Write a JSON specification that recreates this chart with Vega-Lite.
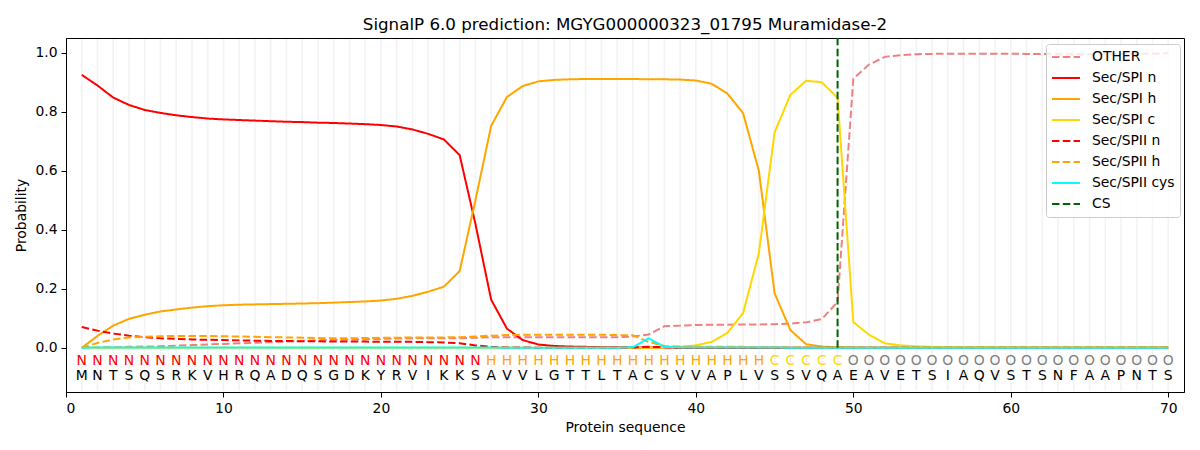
{
  "$schema": "https://vega.github.io/schema/vega-lite/v6.json",
  "width": 1118,
  "height": 354,
  "autosize": {"type": "none"},
  "padding": {"left": 66, "top": 38, "right": 16, "bottom": 58},
  "title": {
    "text": "SignalP 6.0 prediction: MGYG000000323_01795 Muramidase-2",
    "fontSize": 16.7,
    "fontWeight": "normal",
    "offset": 3
  },
  "datasets": {
    "residues": [
      {"pos": 1, "aa": "M", "lab": "N", "OTHER": 0.000, "Sec/SPI n": 0.925, "Sec/SPI h": 0.000, "Sec/SPI c": 0.000, "Sec/SPII n": 0.070, "Sec/SPII h": 0.000, "Sec/SPII cys": 0.000},
      {"pos": 2, "aa": "N", "lab": "N", "OTHER": 0.001, "Sec/SPI n": 0.889, "Sec/SPI h": 0.040, "Sec/SPI c": 0.000, "Sec/SPII n": 0.058, "Sec/SPII h": 0.016, "Sec/SPII cys": 0.001},
      {"pos": 3, "aa": "T", "lab": "N", "OTHER": 0.002, "Sec/SPI n": 0.848, "Sec/SPI h": 0.075, "Sec/SPI c": 0.000, "Sec/SPII n": 0.048, "Sec/SPII h": 0.028, "Sec/SPII cys": 0.001},
      {"pos": 4, "aa": "S", "lab": "N", "OTHER": 0.003, "Sec/SPI n": 0.823, "Sec/SPI h": 0.098, "Sec/SPI c": 0.000, "Sec/SPII n": 0.041, "Sec/SPII h": 0.035, "Sec/SPII cys": 0.001},
      {"pos": 5, "aa": "Q", "lab": "N", "OTHER": 0.004, "Sec/SPI n": 0.806, "Sec/SPI h": 0.112, "Sec/SPI c": 0.000, "Sec/SPII n": 0.036, "Sec/SPII h": 0.037, "Sec/SPII cys": 0.001},
      {"pos": 6, "aa": "S", "lab": "N", "OTHER": 0.005, "Sec/SPI n": 0.796, "Sec/SPI h": 0.123, "Sec/SPI c": 0.000, "Sec/SPII n": 0.032, "Sec/SPII h": 0.039, "Sec/SPII cys": 0.001},
      {"pos": 7, "aa": "R", "lab": "N", "OTHER": 0.007, "Sec/SPI n": 0.788, "Sec/SPI h": 0.130, "Sec/SPI c": 0.000, "Sec/SPII n": 0.030, "Sec/SPII h": 0.040, "Sec/SPII cys": 0.001},
      {"pos": 8, "aa": "K", "lab": "N", "OTHER": 0.009, "Sec/SPI n": 0.782, "Sec/SPI h": 0.136, "Sec/SPI c": 0.000, "Sec/SPII n": 0.028, "Sec/SPII h": 0.040, "Sec/SPII cys": 0.001},
      {"pos": 9, "aa": "V", "lab": "N", "OTHER": 0.011, "Sec/SPI n": 0.777, "Sec/SPI h": 0.141, "Sec/SPI c": 0.000, "Sec/SPII n": 0.027, "Sec/SPII h": 0.040, "Sec/SPII cys": 0.001},
      {"pos": 10, "aa": "H", "lab": "N", "OTHER": 0.013, "Sec/SPI n": 0.774, "Sec/SPI h": 0.144, "Sec/SPI c": 0.000, "Sec/SPII n": 0.026, "Sec/SPII h": 0.039, "Sec/SPII cys": 0.001},
      {"pos": 11, "aa": "R", "lab": "N", "OTHER": 0.015, "Sec/SPI n": 0.772, "Sec/SPI h": 0.146, "Sec/SPI c": 0.000, "Sec/SPII n": 0.025, "Sec/SPII h": 0.038, "Sec/SPII cys": 0.001},
      {"pos": 12, "aa": "Q", "lab": "N", "OTHER": 0.017, "Sec/SPI n": 0.770, "Sec/SPI h": 0.147, "Sec/SPI c": 0.000, "Sec/SPII n": 0.024, "Sec/SPII h": 0.037, "Sec/SPII cys": 0.001},
      {"pos": 13, "aa": "A", "lab": "N", "OTHER": 0.019, "Sec/SPI n": 0.768, "Sec/SPI h": 0.148, "Sec/SPI c": 0.000, "Sec/SPII n": 0.023, "Sec/SPII h": 0.036, "Sec/SPII cys": 0.001},
      {"pos": 14, "aa": "D", "lab": "N", "OTHER": 0.021, "Sec/SPI n": 0.766, "Sec/SPI h": 0.149, "Sec/SPI c": 0.000, "Sec/SPII n": 0.023, "Sec/SPII h": 0.035, "Sec/SPII cys": 0.001},
      {"pos": 15, "aa": "Q", "lab": "N", "OTHER": 0.023, "Sec/SPI n": 0.765, "Sec/SPI h": 0.150, "Sec/SPI c": 0.000, "Sec/SPII n": 0.022, "Sec/SPII h": 0.034, "Sec/SPII cys": 0.001},
      {"pos": 16, "aa": "S", "lab": "N", "OTHER": 0.025, "Sec/SPI n": 0.763, "Sec/SPI h": 0.151, "Sec/SPI c": 0.000, "Sec/SPII n": 0.022, "Sec/SPII h": 0.033, "Sec/SPII cys": 0.001},
      {"pos": 17, "aa": "G", "lab": "N", "OTHER": 0.027, "Sec/SPI n": 0.762, "Sec/SPI h": 0.153, "Sec/SPI c": 0.000, "Sec/SPII n": 0.021, "Sec/SPII h": 0.032, "Sec/SPII cys": 0.001},
      {"pos": 18, "aa": "D", "lab": "N", "OTHER": 0.028, "Sec/SPI n": 0.760, "Sec/SPI h": 0.155, "Sec/SPI c": 0.000, "Sec/SPII n": 0.021, "Sec/SPII h": 0.032, "Sec/SPII cys": 0.001},
      {"pos": 19, "aa": "K", "lab": "N", "OTHER": 0.029, "Sec/SPI n": 0.758, "Sec/SPI h": 0.157, "Sec/SPI c": 0.000, "Sec/SPII n": 0.021, "Sec/SPII h": 0.033, "Sec/SPII cys": 0.001},
      {"pos": 20, "aa": "Y", "lab": "N", "OTHER": 0.030, "Sec/SPI n": 0.755, "Sec/SPI h": 0.160, "Sec/SPI c": 0.000, "Sec/SPII n": 0.020, "Sec/SPII h": 0.034, "Sec/SPII cys": 0.001},
      {"pos": 21, "aa": "R", "lab": "N", "OTHER": 0.031, "Sec/SPI n": 0.750, "Sec/SPI h": 0.166, "Sec/SPI c": 0.000, "Sec/SPII n": 0.020, "Sec/SPII h": 0.034, "Sec/SPII cys": 0.001},
      {"pos": 22, "aa": "V", "lab": "N", "OTHER": 0.032, "Sec/SPI n": 0.740, "Sec/SPI h": 0.176, "Sec/SPI c": 0.000, "Sec/SPII n": 0.020, "Sec/SPII h": 0.035, "Sec/SPII cys": 0.001},
      {"pos": 23, "aa": "I", "lab": "N", "OTHER": 0.032, "Sec/SPI n": 0.725, "Sec/SPI h": 0.190, "Sec/SPI c": 0.000, "Sec/SPII n": 0.019, "Sec/SPII h": 0.035, "Sec/SPII cys": 0.001},
      {"pos": 24, "aa": "K", "lab": "N", "OTHER": 0.032, "Sec/SPI n": 0.706, "Sec/SPI h": 0.207, "Sec/SPI c": 0.000, "Sec/SPII n": 0.018, "Sec/SPII h": 0.035, "Sec/SPII cys": 0.001},
      {"pos": 25, "aa": "K", "lab": "N", "OTHER": 0.032, "Sec/SPI n": 0.653, "Sec/SPI h": 0.260, "Sec/SPI c": 0.000, "Sec/SPII n": 0.015, "Sec/SPII h": 0.036, "Sec/SPII cys": 0.001},
      {"pos": 26, "aa": "S", "lab": "N", "OTHER": 0.034, "Sec/SPI n": 0.420, "Sec/SPI h": 0.500, "Sec/SPI c": 0.000, "Sec/SPII n": 0.008, "Sec/SPII h": 0.038, "Sec/SPII cys": 0.001},
      {"pos": 27, "aa": "A", "lab": "H", "OTHER": 0.036, "Sec/SPI n": 0.163, "Sec/SPI h": 0.752, "Sec/SPI c": 0.000, "Sec/SPII n": 0.003, "Sec/SPII h": 0.041, "Sec/SPII cys": 0.001},
      {"pos": 28, "aa": "V", "lab": "H", "OTHER": 0.036, "Sec/SPI n": 0.065, "Sec/SPI h": 0.850, "Sec/SPI c": 0.000, "Sec/SPII n": 0.001, "Sec/SPII h": 0.043, "Sec/SPII cys": 0.000},
      {"pos": 29, "aa": "V", "lab": "H", "OTHER": 0.036, "Sec/SPI n": 0.026, "Sec/SPI h": 0.887, "Sec/SPI c": 0.000, "Sec/SPII n": 0.001, "Sec/SPII h": 0.044, "Sec/SPII cys": 0.000},
      {"pos": 30, "aa": "L", "lab": "H", "OTHER": 0.036, "Sec/SPI n": 0.011, "Sec/SPI h": 0.903, "Sec/SPI c": 0.000, "Sec/SPII n": 0.000, "Sec/SPII h": 0.044, "Sec/SPII cys": 0.000},
      {"pos": 31, "aa": "G", "lab": "H", "OTHER": 0.036, "Sec/SPI n": 0.006, "Sec/SPI h": 0.908, "Sec/SPI c": 0.000, "Sec/SPII n": 0.000, "Sec/SPII h": 0.044, "Sec/SPII cys": 0.000},
      {"pos": 32, "aa": "T", "lab": "H", "OTHER": 0.036, "Sec/SPI n": 0.004, "Sec/SPI h": 0.910, "Sec/SPI c": 0.000, "Sec/SPII n": 0.000, "Sec/SPII h": 0.044, "Sec/SPII cys": 0.000},
      {"pos": 33, "aa": "T", "lab": "H", "OTHER": 0.036, "Sec/SPI n": 0.003, "Sec/SPI h": 0.911, "Sec/SPI c": 0.000, "Sec/SPII n": 0.000, "Sec/SPII h": 0.044, "Sec/SPII cys": 0.000},
      {"pos": 34, "aa": "L", "lab": "H", "OTHER": 0.036, "Sec/SPI n": 0.002, "Sec/SPI h": 0.911, "Sec/SPI c": 0.000, "Sec/SPII n": 0.000, "Sec/SPII h": 0.044, "Sec/SPII cys": 0.000},
      {"pos": 35, "aa": "T", "lab": "H", "OTHER": 0.036, "Sec/SPI n": 0.002, "Sec/SPI h": 0.911, "Sec/SPI c": 0.000, "Sec/SPII n": 0.000, "Sec/SPII h": 0.043, "Sec/SPII cys": 0.000},
      {"pos": 36, "aa": "A", "lab": "H", "OTHER": 0.038, "Sec/SPI n": 0.001, "Sec/SPI h": 0.911, "Sec/SPI c": 0.000, "Sec/SPII n": 0.001, "Sec/SPII h": 0.042, "Sec/SPII cys": 0.002},
      {"pos": 37, "aa": "C", "lab": "H", "OTHER": 0.045, "Sec/SPI n": 0.001, "Sec/SPI h": 0.910, "Sec/SPI c": 0.000, "Sec/SPII n": 0.003, "Sec/SPII h": 0.020, "Sec/SPII cys": 0.032},
      {"pos": 38, "aa": "S", "lab": "H", "OTHER": 0.073, "Sec/SPI n": 0.001, "Sec/SPI h": 0.910, "Sec/SPI c": 0.001, "Sec/SPII n": 0.002, "Sec/SPII h": 0.006, "Sec/SPII cys": 0.003},
      {"pos": 39, "aa": "V", "lab": "H", "OTHER": 0.075, "Sec/SPI n": 0.000, "Sec/SPI h": 0.909, "Sec/SPI c": 0.003, "Sec/SPII n": 0.000, "Sec/SPII h": 0.004, "Sec/SPII cys": 0.001},
      {"pos": 40, "aa": "V", "lab": "H", "OTHER": 0.077, "Sec/SPI n": 0.000, "Sec/SPI h": 0.906, "Sec/SPI c": 0.008, "Sec/SPII n": 0.000, "Sec/SPII h": 0.003, "Sec/SPII cys": 0.001},
      {"pos": 41, "aa": "A", "lab": "H", "OTHER": 0.078, "Sec/SPI n": 0.000, "Sec/SPI h": 0.895, "Sec/SPI c": 0.020, "Sec/SPII n": 0.000, "Sec/SPII h": 0.003, "Sec/SPII cys": 0.001},
      {"pos": 42, "aa": "P", "lab": "H", "OTHER": 0.078, "Sec/SPI n": 0.000, "Sec/SPI h": 0.862, "Sec/SPI c": 0.050, "Sec/SPII n": 0.000, "Sec/SPII h": 0.003, "Sec/SPII cys": 0.001},
      {"pos": 43, "aa": "L", "lab": "H", "OTHER": 0.079, "Sec/SPI n": 0.000, "Sec/SPI h": 0.795, "Sec/SPI c": 0.118, "Sec/SPII n": 0.000, "Sec/SPII h": 0.003, "Sec/SPII cys": 0.001},
      {"pos": 44, "aa": "V", "lab": "H", "OTHER": 0.079, "Sec/SPI n": 0.000, "Sec/SPI h": 0.600, "Sec/SPI c": 0.320, "Sec/SPII n": 0.000, "Sec/SPII h": 0.002, "Sec/SPII cys": 0.001},
      {"pos": 45, "aa": "S", "lab": "C", "OTHER": 0.080, "Sec/SPI n": 0.000, "Sec/SPI h": 0.185, "Sec/SPI c": 0.730, "Sec/SPII n": 0.000, "Sec/SPII h": 0.002, "Sec/SPII cys": 0.001},
      {"pos": 46, "aa": "S", "lab": "C", "OTHER": 0.082, "Sec/SPI n": 0.000, "Sec/SPI h": 0.060, "Sec/SPI c": 0.857, "Sec/SPII n": 0.000, "Sec/SPII h": 0.001, "Sec/SPII cys": 0.000},
      {"pos": 47, "aa": "V", "lab": "C", "OTHER": 0.086, "Sec/SPI n": 0.000, "Sec/SPI h": 0.012, "Sec/SPI c": 0.905, "Sec/SPII n": 0.000, "Sec/SPII h": 0.001, "Sec/SPII cys": 0.000},
      {"pos": 48, "aa": "Q", "lab": "C", "OTHER": 0.097, "Sec/SPI n": 0.000, "Sec/SPI h": 0.004, "Sec/SPI c": 0.900, "Sec/SPII n": 0.000, "Sec/SPII h": 0.000, "Sec/SPII cys": 0.000},
      {"pos": 49, "aa": "A", "lab": "C", "OTHER": 0.155, "Sec/SPI n": 0.000, "Sec/SPI h": 0.002, "Sec/SPI c": 0.847, "Sec/SPII n": 0.000, "Sec/SPII h": 0.000, "Sec/SPII cys": 0.000},
      {"pos": 50, "aa": "E", "lab": "O", "OTHER": 0.912, "Sec/SPI n": 0.000, "Sec/SPI h": 0.001, "Sec/SPI c": 0.087, "Sec/SPII n": 0.000, "Sec/SPII h": 0.000, "Sec/SPII cys": 0.000},
      {"pos": 51, "aa": "A", "lab": "O", "OTHER": 0.960, "Sec/SPI n": 0.000, "Sec/SPI h": 0.000, "Sec/SPI c": 0.044, "Sec/SPII n": 0.000, "Sec/SPII h": 0.000, "Sec/SPII cys": 0.000},
      {"pos": 52, "aa": "V", "lab": "O", "OTHER": 0.986, "Sec/SPI n": 0.000, "Sec/SPI h": 0.000, "Sec/SPI c": 0.015, "Sec/SPII n": 0.000, "Sec/SPII h": 0.000, "Sec/SPII cys": 0.000},
      {"pos": 53, "aa": "E", "lab": "O", "OTHER": 0.992, "Sec/SPI n": 0.000, "Sec/SPI h": 0.000, "Sec/SPI c": 0.008, "Sec/SPII n": 0.000, "Sec/SPII h": 0.000, "Sec/SPII cys": 0.000},
      {"pos": 54, "aa": "T", "lab": "O", "OTHER": 0.995, "Sec/SPI n": 0.000, "Sec/SPI h": 0.000, "Sec/SPI c": 0.005, "Sec/SPII n": 0.000, "Sec/SPII h": 0.000, "Sec/SPII cys": 0.000},
      {"pos": 55, "aa": "S", "lab": "O", "OTHER": 0.996, "Sec/SPI n": 0.000, "Sec/SPI h": 0.000, "Sec/SPI c": 0.003, "Sec/SPII n": 0.000, "Sec/SPII h": 0.000, "Sec/SPII cys": 0.000},
      {"pos": 56, "aa": "I", "lab": "O", "OTHER": 0.997, "Sec/SPI n": 0.000, "Sec/SPI h": 0.000, "Sec/SPI c": 0.002, "Sec/SPII n": 0.000, "Sec/SPII h": 0.000, "Sec/SPII cys": 0.000},
      {"pos": 57, "aa": "A", "lab": "O", "OTHER": 0.997, "Sec/SPI n": 0.000, "Sec/SPI h": 0.000, "Sec/SPI c": 0.002, "Sec/SPII n": 0.000, "Sec/SPII h": 0.000, "Sec/SPII cys": 0.000},
      {"pos": 58, "aa": "Q", "lab": "O", "OTHER": 0.997, "Sec/SPI n": 0.000, "Sec/SPI h": 0.000, "Sec/SPI c": 0.002, "Sec/SPII n": 0.000, "Sec/SPII h": 0.000, "Sec/SPII cys": 0.000},
      {"pos": 59, "aa": "V", "lab": "O", "OTHER": 0.997, "Sec/SPI n": 0.000, "Sec/SPI h": 0.000, "Sec/SPI c": 0.002, "Sec/SPII n": 0.000, "Sec/SPII h": 0.000, "Sec/SPII cys": 0.000},
      {"pos": 60, "aa": "S", "lab": "O", "OTHER": 0.997, "Sec/SPI n": 0.000, "Sec/SPI h": 0.000, "Sec/SPI c": 0.001, "Sec/SPII n": 0.000, "Sec/SPII h": 0.000, "Sec/SPII cys": 0.000},
      {"pos": 61, "aa": "T", "lab": "O", "OTHER": 0.996, "Sec/SPI n": 0.000, "Sec/SPI h": 0.000, "Sec/SPI c": 0.001, "Sec/SPII n": 0.000, "Sec/SPII h": 0.000, "Sec/SPII cys": 0.000},
      {"pos": 62, "aa": "S", "lab": "O", "OTHER": 0.996, "Sec/SPI n": 0.000, "Sec/SPI h": 0.000, "Sec/SPI c": 0.001, "Sec/SPII n": 0.000, "Sec/SPII h": 0.000, "Sec/SPII cys": 0.000},
      {"pos": 63, "aa": "N", "lab": "O", "OTHER": 0.995, "Sec/SPI n": 0.000, "Sec/SPI h": 0.000, "Sec/SPI c": 0.001, "Sec/SPII n": 0.000, "Sec/SPII h": 0.000, "Sec/SPII cys": 0.000},
      {"pos": 64, "aa": "F", "lab": "O", "OTHER": 0.995, "Sec/SPI n": 0.000, "Sec/SPI h": 0.000, "Sec/SPI c": 0.001, "Sec/SPII n": 0.000, "Sec/SPII h": 0.000, "Sec/SPII cys": 0.000},
      {"pos": 65, "aa": "A", "lab": "O", "OTHER": 0.995, "Sec/SPI n": 0.000, "Sec/SPI h": 0.000, "Sec/SPI c": 0.001, "Sec/SPII n": 0.000, "Sec/SPII h": 0.000, "Sec/SPII cys": 0.000},
      {"pos": 66, "aa": "A", "lab": "O", "OTHER": 0.995, "Sec/SPI n": 0.000, "Sec/SPI h": 0.000, "Sec/SPI c": 0.001, "Sec/SPII n": 0.000, "Sec/SPII h": 0.000, "Sec/SPII cys": 0.000},
      {"pos": 67, "aa": "P", "lab": "O", "OTHER": 0.996, "Sec/SPI n": 0.000, "Sec/SPI h": 0.000, "Sec/SPI c": 0.001, "Sec/SPII n": 0.000, "Sec/SPII h": 0.000, "Sec/SPII cys": 0.000},
      {"pos": 68, "aa": "N", "lab": "O", "OTHER": 0.996, "Sec/SPI n": 0.000, "Sec/SPI h": 0.000, "Sec/SPI c": 0.001, "Sec/SPII n": 0.000, "Sec/SPII h": 0.000, "Sec/SPII cys": 0.000},
      {"pos": 69, "aa": "T", "lab": "O", "OTHER": 0.997, "Sec/SPI n": 0.000, "Sec/SPI h": 0.000, "Sec/SPI c": 0.001, "Sec/SPII n": 0.000, "Sec/SPII h": 0.000, "Sec/SPII cys": 0.000},
      {"pos": 70, "aa": "S", "lab": "O", "OTHER": 0.998, "Sec/SPI n": 0.000, "Sec/SPI h": 0.000, "Sec/SPI c": 0.001, "Sec/SPII n": 0.000, "Sec/SPII h": 0.000, "Sec/SPII cys": 0.000}
    ],
    "cleavage": [
      {"pos": 49, "series": "CS", "lo": 0, "hi": 1.05}
    ]
  },
  "data": {"name": "residues"},
  "encoding": {
    "x": {
      "field": "pos",
      "type": "quantitative",
      "scale": {"domain": [0, 71], "nice": false, "zero": false},
      "axis": {
        "title": "Protein sequence",
        "values": [0, 10, 20, 30, 40, 50, 60, 70],
        "format": "d",
        "grid": false
      }
    }
  },
  "layer": [
    {
      "mark": {"type": "rule", "color": "#f3f3f3", "strokeWidth": 1.6},
      "encoding": {
        "y": {"datum": -0.147, "type": "quantitative"},
        "y2": {"datum": 1.047}
      }
    },
    {
      "transform": [
        {
          "fold": ["OTHER", "Sec/SPI n", "Sec/SPI h", "Sec/SPI c", "Sec/SPII n", "Sec/SPII h", "Sec/SPII cys"],
          "as": ["series", "prob"]
        }
      ],
      "mark": {"type": "line", "strokeWidth": 2},
      "encoding": {
        "y": {
          "field": "prob",
          "type": "quantitative",
          "scale": {"domain": [-0.15, 1.05], "nice": false, "zero": false},
          "axis": {
            "title": "Probability",
            "values": [0, 0.2, 0.4, 0.6, 0.8, 1.0],
            "format": ".1f",
            "grid": false
          }
        },
        "color": {
          "field": "series",
          "type": "nominal",
          "scale": {
            "domain": ["OTHER", "Sec/SPI n", "Sec/SPI h", "Sec/SPI c", "Sec/SPII n", "Sec/SPII h", "Sec/SPII cys", "CS"],
            "range": ["#f08080", "#ff0000", "#ffa500", "#ffd700", "#ff0000", "#ffa500", "#00ffff", "#006400"]
          },
          "legend": {"title": null}
        },
        "strokeDash": {
          "field": "series",
          "type": "nominal",
          "scale": {
            "domain": ["OTHER", "Sec/SPI n", "Sec/SPI h", "Sec/SPI c", "Sec/SPII n", "Sec/SPII h", "Sec/SPII cys", "CS"],
            "range": [[7.5, 3.3], [1, 0], [1, 0], [1, 0], [7.5, 3.3], [7.5, 3.3], [1, 0], [7.5, 3.3]]
          },
          "legend": {"title": null}
        },
        "order": {"field": "pos", "type": "quantitative"}
      }
    },
    {
      "data": {"name": "cleavage"},
      "mark": {"type": "rule", "strokeWidth": 2},
      "encoding": {
        "y": {"field": "lo", "type": "quantitative"},
        "y2": {"field": "hi"},
        "color": {"field": "series", "type": "nominal"},
        "strokeDash": {"field": "series", "type": "nominal"}
      }
    },
    {
      "mark": {"type": "text", "fontSize": 13.9, "baseline": "middle", "align": "center"},
      "encoding": {
        "y": {"datum": -0.045, "type": "quantitative"},
        "text": {"field": "lab"},
        "color": {
          "condition": [
            {"test": "datum.lab === 'N'", "value": "#ff0000"},
            {"test": "datum.lab === 'H'", "value": "#ffa500"},
            {"test": "datum.lab === 'C'", "value": "#ffd700"}
          ],
          "value": "#808080"
        }
      }
    },
    {
      "mark": {"type": "text", "fontSize": 13.9, "baseline": "middle", "align": "center", "color": "#000000"},
      "encoding": {
        "y": {"datum": -0.097, "type": "quantitative"},
        "text": {"field": "aa"}
      }
    }
  ],
  "config": {
    "font": "DejaVu Sans",
    "view": {"stroke": "#000000", "strokeWidth": 1},
    "axis": {
      "domainColor": "#000000",
      "tickColor": "#000000",
      "tickSize": 5,
      "labelColor": "#000000",
      "titleColor": "#000000",
      "labelFontSize": 13.9,
      "titleFontSize": 13.9,
      "titleFontWeight": "normal",
      "labelPadding": 4,
      "titlePadding": 6
    },
    "legend": {
      "orient": "none",
      "legendX": 980,
      "legendY": 6,
      "symbolType": "stroke",
      "symbolSize": 784,
      "symbolStrokeWidth": 2,
      "labelFontSize": 13.9,
      "labelColor": "#000000",
      "labelOffset": 11,
      "rowPadding": 5,
      "clipHeight": 16,
      "padding": 5,
      "strokeColor": "#cccccc",
      "fillColor": "rgba(255,255,255,0.8)",
      "cornerRadius": 3
    }
  }
}
